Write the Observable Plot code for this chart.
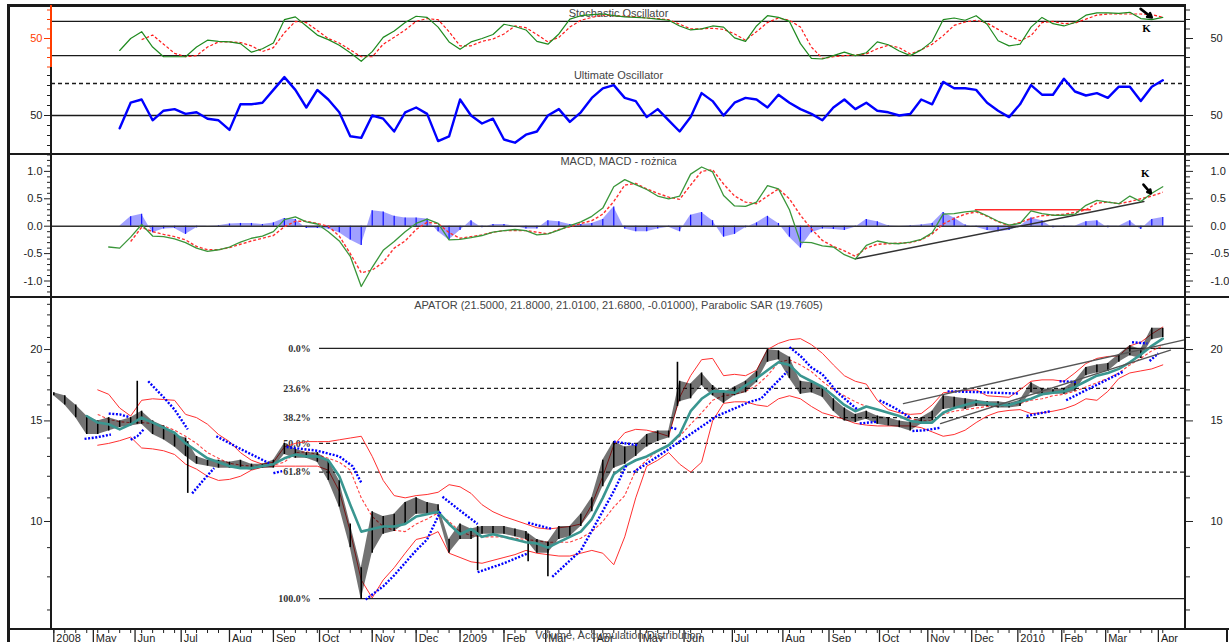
<!DOCTYPE html>
<html><head><meta charset="utf-8">
<script src="https://cdn.jsdelivr.net/npm/d3@7"></script>
<script src="https://cdn.jsdelivr.net/npm/@observablehq/plot@0.6"></script>
<style>
html,body{margin:0;padding:0;background:#fff;overflow:hidden;}
#chart{position:relative;width:1229px;height:642px;overflow:hidden;background:#fff;font-family:"Liberation Sans",Arial,sans-serif;}
.panel{position:absolute;left:0;}
.ln{position:absolute;background:#1a1a1a;}
</style></head><body><div id="chart"></div>
<script>
// ---------- x categories: trading-session index (sampled every 5 sessions) ----------
const sessions = d3.range(0, 506, 5); // 102 samples
const monthTicks  = [0, 18, 37, 58, 80, 100, 121, 145, 165, 185, 205, 224, 246, 267, 287, 309, 332, 353, 376, 398, 418, 439, 459, 479, 503];
const monthLabels = ["2008","May","Jun","Jul","Aug","Sep","Oct","Nov","Dec","2009","Feb","Mar","Apr","May","Jun","Jul","Aug","Sep","Oct","Nov","Dec","2010","Feb","Mar","Apr"];

// ---------- Stochastic oscillator ----------
const stochK = [null,null,null,null,null,null,29,50,62,35,
  18,18,18,35,47,45,44,41,26,32,
  42,83,88,72,56,48,38,25,10,27,
  52,63,78,89,87,70,44,31,44,50,
  57,75,71,65,45,40,58,84,90,92,
  93,90,88,87,86,84,82,72,65,67,
  72,70,51,45,72,90,87,80,41,15,
  14,20,26,20,25,44,39,28,20,30,
  45,83,86,82,90,75,46,37,40,70,
  87,76,72,78,91,95,95,94,96,85,
  83,87];
const stochD = [null,null,null,null,null,null,null,null,48,56,
  40,24,18,20,35,44,44,43,37,27,
  34,60,80,78,64,50,42,30,18,18,
  40,52,65,80,85,83,62,37,37,45,
  49,58,72,69,57,44,52,70,82,87,
  91,90,89,88,86,85,83,75,67,67,
  68,66,58,47,62,78,86,82,70,35,
  15,18,20,21,23,32,38,34,23,30,
  40,55,73,79,82,77,66,55,46,55,
  78,80,76,77,84,91,93,93,93,93,
  92,87];
const stochLevels = [20, 80];
const stochMajor = [50];
const stochMinor = [0, 16.67, 33.33, 66.67, 83.33, 100];

// ---------- Ultimate oscillator ----------
const ultimate = [null,null,null,null,null,null,42,58,60,47,
  53,54,51,52,48,47,41,57,57,58,
  66,74,66,55,66,60,52,37,36,50,
  48,40,52,55,51,34,37,60,50,45,
  48,35,33,38,40,50,54,46,52,61,
  67,69,61,59,49,54,47,40,49,64,
  59,50,58,61,60,55,63,58,54,51,
  47,55,60,54,58,53,52,50,51,60,
  57,71,67,67,66,58,53,49,57,69,
  63,63,73,65,62.5,64,61,68,68,59,
  68,72];
const uoSolid = [50], uoDashed = [70];
const uoMajor = [50];
const uoMinor = [31.25, 37.5, 43.75, 56.25, 62.5, 68.75, 75];

// ---------- MACD ----------
const macd = [null,null,null,null,null,-0.38,-0.40,-0.2,0.03,-0.18,
  -0.19,-0.23,-0.3,-0.4,-0.46,-0.43,-0.38,-0.29,-0.22,-0.18,
  -0.1,0.12,0.17,0.08,0.04,-0.1,-0.27,-0.55,-1.1,-0.75,
  -0.44,-0.28,-0.1,0.05,0.13,0.05,-0.25,-0.24,-0.21,-0.17,
  -0.11,-0.08,-0.06,-0.08,-0.16,-0.14,-0.07,0.01,0.08,0.18,
  0.33,0.72,0.85,0.76,0.67,0.55,0.5,0.55,0.95,1.08,
  0.99,0.56,0.37,0.36,0.44,0.74,0.68,0.3,-0.29,-0.3,
  -0.36,-0.38,-0.52,-0.6,-0.35,-0.27,-0.31,-0.32,-0.29,-0.24,
  -0.12,0.22,0.23,0.26,0.28,0.19,0.09,0.02,0.05,0.28,
  0.23,0.2,0.2,0.22,0.38,0.47,0.44,0.41,0.55,0.45,
  0.6,0.72];
const signal = [null,null,null,null,null,null,null,-0.28,-0.02,-0.1,
  -0.15,-0.19,-0.25,-0.37,-0.43,-0.43,-0.39,-0.33,-0.27,-0.22,
  -0.17,-0.01,0.09,0.09,0.05,0.0,-0.18,-0.5,-0.85,-0.8,
  -0.66,-0.4,-0.27,-0.06,0.07,0.05,-0.12,-0.22,-0.19,-0.16,
  -0.11,-0.08,-0.08,-0.08,-0.11,-0.14,-0.06,-0.01,0.05,0.1,
  0.22,0.45,0.75,0.78,0.68,0.6,0.53,0.49,0.75,1.0,
  1.03,0.77,0.55,0.44,0.41,0.55,0.68,0.5,0.2,-0.05,
  -0.26,-0.37,-0.45,-0.55,-0.4,-0.33,-0.32,-0.31,-0.3,-0.25,
  -0.14,0.04,0.14,0.22,0.26,0.18,0.08,0.01,0.07,0.14,
  0.19,0.2,0.22,0.25,0.3,0.42,0.44,0.41,0.45,0.5,
  0.55,0.62];
const histogram = [null,null,null,null,null,null,0.0,0.17,0.22,-0.12,
  -0.05,-0.04,-0.15,-0.03,0.0,0.01,0.04,0.05,0.05,0.03,
  0.06,0.14,0.12,-0.04,-0.04,-0.05,-0.12,-0.25,-0.35,0.28,
  0.26,0.18,0.15,0.15,0.13,-0.1,-0.25,-0.08,0.1,-0.03,
  0.03,0.03,0.0,-0.05,-0.05,0.1,0.08,0.03,0.03,0.05,
  0.12,0.35,-0.05,-0.1,-0.1,-0.05,-0.02,-0.1,0.2,0.25,
  0.1,-0.2,-0.15,-0.03,0.06,0.18,0.05,-0.2,-0.4,-0.12,
  -0.05,-0.06,-0.08,-0.02,0.12,0.08,0.01,0.0,0.01,0.02,
  0.05,0.25,0.15,0.02,-0.02,-0.08,-0.1,-0.08,0.0,0.15,
  0.1,-0.03,-0.02,0.0,0.08,0.1,-0.03,0.0,0.1,-0.06,
  0.12,0.16];
const macdMajor = [-1, -0.5, 0, 0.5, 1];
const macdMinor = [-1.3,-1.2,-1.1,-0.9,-0.8,-0.7,-0.6,-0.4,-0.3,-0.2,-0.1,0.1,0.2,0.3,0.4,0.6,0.7,0.8,0.9,1.1,1.2,1.3];
const macdTrendBlack = [[365.1, -0.595], [496.4, 0.45]];
const macdTrendRed = [[419.7, 0.30], [472, 0.30]];

// ---------- Price (APATOR) ----------
const priceHigh = [16.8,16.6,16.0,15.3,15.0,15.2,15.0,15.2,15.6,15.0,
  14.7,14.2,14.0,13.0,12.8,12.8,12.7,12.8,12.6,12.6,
  12.8,13.7,13.4,13.2,13.2,12.8,11.8,9.9,8.3,10.4,
  10.2,10.3,10.8,11.0,10.8,10.7,9.3,9.9,9.7,9.8,
  9.8,9.8,9.7,9.6,9.3,9.2,9.8,9.8,10.3,11.0,
  12.8,13.8,13.5,13.6,14.2,14.4,14.4,17.6,17.4,18.2,
  17.3,16.8,17.2,17.6,18.3,20.0,19.9,19.4,17.6,17.5,
  17.2,16.4,15.8,15.4,15.6,15.3,15.2,15.0,14.9,15.2,
  15.6,16.6,16.5,16.4,16.3,16.2,16.2,16.1,16.3,17.5,
  17.1,17.0,17.1,17.6,18.6,18.8,18.9,19.6,20.3,20.0,
  21.8,21.8];
const priceLow = [16.6,16.0,15.2,14.2,14.2,14.4,14.6,14.7,14.8,14.2,
  13.9,13.5,13.0,12.6,12.5,12.4,12.4,12.4,12.3,12.4,
  12.4,13.1,12.9,12.9,12.7,11.8,10.6,9.0,7.3,8.8,
  9.5,9.6,9.9,10.3,10.3,10.3,8.8,9.3,9.3,9.5,
  9.5,9.5,9.4,9.3,8.8,8.8,9.3,9.4,9.8,10.4,
  11.5,12.4,12.6,13.0,13.5,13.8,14.0,16.2,16.4,17.3,
  16.6,16.1,16.6,16.8,17.5,19.0,19.2,17.8,16.7,16.8,
  16.5,15.6,15.0,14.9,15.1,14.8,14.7,14.6,14.4,14.8,
  15.0,15.7,15.8,15.7,15.9,15.9,15.8,15.8,15.9,16.8,
  16.6,16.7,16.7,16.9,18.0,18.2,18.3,19.0,19.5,19.3,
  20.8,21.0];
const priceSpikes = [[38,14.8,17.6],[61,11.2,13.8],[193,8.2,9.8],[216,8.5,9.5],[225,8.0,9.2],[284,15.9,19.0]];
const maTeal = [null,null,null,15.3,14.9,14.8,14.5,14.8,15.2,14.9,
  14.6,14.3,13.7,13.3,12.9,12.7,12.5,12.4,12.4,12.5,
  12.6,12.9,13.1,13.0,13.0,12.8,12.0,10.7,9.6,9.7,
  9.8,9.8,9.9,10.2,10.3,10.4,9.9,9.5,9.7,9.4,
  9.5,9.4,9.3,9.2,9.15,9.0,9.2,9.4,9.6,10.1,
  11.0,12.1,12.5,12.8,13.0,13.3,13.6,14.2,15.6,16.4,
  16.9,16.9,16.8,17.3,17.8,18.4,19.0,18.8,18.0,17.6,
  17.2,16.6,16.0,15.6,15.9,15.7,15.5,15.3,15.0,14.9,
  14.9,15.5,15.8,16.0,16.2,16.1,16.0,16.0,16.2,16.4,
  16.7,16.8,16.9,17.2,17.6,18.0,18.2,18.5,19.0,19.6,
  20.3,20.9];
const maRed = [null,null,null,null,15.4,15.1,14.95,14.9,14.9,14.85,
  14.7,14.45,14.1,13.7,13.2,12.9,12.65,12.55,12.5,12.5,
  12.55,12.7,13.2,13.25,13.1,12.9,12.7,12.3,11.0,10.2,
  9.8,9.65,9.6,9.9,10.1,10.35,10.0,9.6,9.45,9.4,
  9.4,9.4,9.35,9.3,9.25,9.2,9.2,9.2,9.35,9.6,
  10.0,10.6,11.1,12.3,12.8,13.3,13.6,14.1,14.8,15.5,
  16.3,16.6,16.7,16.9,17.3,18.0,19.0,19.2,18.8,18.3,
  17.6,17.0,16.6,16.2,15.9,15.7,15.5,15.3,15.15,15.0,
  15.0,15.4,15.6,15.7,15.8,15.9,15.9,16.0,16.1,16.3,
  16.4,16.6,16.7,16.9,17.2,17.5,17.8,18.2,18.8,19.3,
  19.9,20.3];
const bandUpper = [null,null,null,null,17.0,16.7,15.8,15.3,16.3,16.4,
  16.35,16.3,15.4,15.2,14.8,14.2,13.8,13.2,12.8,12.6,
  12.7,13.5,13.7,13.8,13.8,13.8,13.9,14.0,14.1,13.0,
  11.8,11.1,11.0,11.1,11.15,11.25,11.6,11.5,11.2,10.7,
  10.4,10.2,10.05,9.9,9.75,9.7,9.75,9.8,9.9,10.7,
  12.0,13.6,14.3,14.5,14.45,14.3,14.1,16.5,18.0,19.2,
  19.3,18.0,18.1,18.0,18.4,20.0,20.5,20.8,20.9,20.4,
  19.7,18.8,18.0,17.6,17.4,16.3,15.7,15.5,15.4,15.45,
  16.0,16.8,16.9,16.95,17.0,16.6,16.55,16.5,17.0,17.6,
  17.7,17.7,17.6,18.2,18.9,19.3,19.45,19.5,20.3,20.6,
  21.3,21.9];
const bandLower = [null,null,null,null,13.6,13.7,13.85,14.05,13.45,13.4,
  13.3,13.1,12.6,12.35,12.0,11.8,11.85,12.0,12.3,12.45,
  12.5,12.5,12.5,12.5,12.5,12.3,11.3,9.6,7.9,7.35,
  7.9,8.3,8.8,9.3,9.4,9.6,8.8,8.65,8.5,8.45,
  8.55,8.65,8.75,8.9,8.8,8.75,8.7,8.7,8.8,8.9,
  8.8,8.4,9.4,11.0,12.5,12.8,13.2,12.6,12.2,12.7,
  15.0,16.1,16.2,16.2,16.0,15.9,16.4,16.6,16.4,15.9,
  15.5,15.3,15.1,14.85,14.75,14.7,14.7,14.7,14.7,14.6,
  14.35,14.1,14.2,14.45,14.9,15.3,15.55,15.65,15.7,15.45,
  15.5,15.6,15.75,16.0,16.4,16.3,16.9,17.8,18.2,18.35,
  18.5,18.8];
// Parabolic SAR runs: [session, value]
const sarSegments = [
  [[14,13.95],[20,14.05],[26,14.2]],
  [[25,15.45],[30,15.4],[34,15.25]],
  [[35,13.9],[38,14.1],[41,14.5]],
  [[43,17.6],[50,16.5],[55,15.7],[61,14.5]],
  [[63,11.2],[68,11.8],[73,12.4]],
  [[74,14.1],[85,13.4],[98,12.65]],
  [[100,12.15],[104,12.25]],
  [[106,13.5],[120,13.3],[130,13.0],[136,12.5],[140,11.7]],
  [[142,7.3],[150,7.7],[155,8.05],[165,8.9],[170,9.3],[176,10.4]],
  [[177,11.05],[185,10.45],[193,9.9]],
  [[193,8.15],[205,8.45],[216,8.8]],
  [[216,9.95],[227,9.7]],
  [[227,8.0],[240,8.9],[248,10.1],[255,11.3],[261,12.6]],
  [[255,13.8],[266,13.6]],
  [[264,12.2],[275,13.0],[285,13.8]],
  [[281,14.6],[284,14.5]],
  [[285,13.8],[302,15.3],[317,16.2],[322,16.4],[329,17.5],[334,18.3]],
  [[335,20.2],[340,19.5],[345,18.6],[350,18.1],[357,16.8],[366,15.7]],
  [[367,14.85],[375,14.95]],
  [[376,16.3],[383,15.8],[390,15.2]],
  [[391,14.4],[397,14.45],[404,14.6]],
  [[407,16.9],[420,16.85],[439,16.75]],
  [[443,15.3],[454,15.6]],
  [[458,17.6],[466,17.55]],
  [[461,16.3],[469,16.9],[477,17.5],[487,18.3]],
  [[491,20.6],[498,20.5]],
  [[499,19.1],[503,19.7]]
];
const priceTrendlines = [
  [[386.9,16.09],[515.3,20.82]],
  [[403.8,14.84],[508.5,19.96]]
];
const fibLabels = ["0.0%","23.6%","38.2%","50.0%","61.8%","100.0%"];
const fibValues = [20.1, 17.1, 15.2, 13.7, 12.2, 7.33];
const fibStart = 121, fibLabelAt = 117;
const priceMajor = [10, 15, 20];
const priceMinor = [7,8,9,11,12,13,14,16,17,18,19,21,22,23,24];

// annotations
const stochArrow = [{x1:494.9, y1:102, x2:500, y2:87}];
const stochK_label = [{s:497.6, v:68, t:"K"}];
const macdArrow = [{x1:496.2, y1:0.76, x2:499.6, y2:0.6}];
const macdK_label = [{s:497, v:0.96, t:"K"}];

// ---------- build ----------
const rows = sessions.map((s, i) => ({s, k: stochK[i], d: stochD[i], u: ultimate[i], m: macd[i], sg: signal[i], h: histogram[i],
  hi: priceHigh[i], lo: priceLow[i], ma: maTeal[i], ma2: maRed[i], bu: bandUpper[i], bl: bandLower[i]}));
const sarRows = sarSegments.flatMap((seg, j) => seg.map(([s, v]) => ({s, v, seg: j})));
const trendRows = priceTrendlines.flatMap((seg, j) => seg.map(([s, v]) => ({s, v, seg: j})));
const fibRows = fibLabels.map((label, i) => ({label, v: fibValues[i], solid: i === 0 || i === fibLabels.length - 1}));

const chart = document.getElementById("chart");
const XD = [-1.05, 515.35];
const FONT = "'Liberation Sans', Arial, sans-serif";
const SERIF = "'Liberation Serif', 'Times New Roman', serif";
function addPanel(top, opts) {
  const svg = Plot.plot({width: 1229, marginLeft: 51, marginRight: 44, x: {domain: XD, axis: null},
    style: {fontFamily: FONT, fontSize: "11px", background: "transparent", color: "#222", overflow: "visible"}, ...opts});
  const div = document.createElement("div");
  div.className = "panel"; div.style.top = top + "px";
  div.appendChild(svg); chart.appendChild(div);
}
function yAxes(major, minor, fmt, leftColor = "#222") {
  return [
    Plot.axisY({anchor: "left", ticks: minor, tickSize: 4, fill: "none", stroke: leftColor, label: null}),
    Plot.axisY({anchor: "left", ticks: major, tickSize: 7, tickPadding: 2, tickFormat: fmt, color: leftColor, label: null, fontSize: 11}),
    Plot.axisY({anchor: "right", ticks: minor, tickSize: 4, fill: "none", stroke: "#222", label: null}),
    Plot.axisY({anchor: "right", ticks: major, tickSize: 7, tickPadding: 18, tickFormat: fmt, color: "#222", label: null, fontSize: 11})
  ];
}
const titleOpts = (dy) => ({text: d => d, frameAnchor: "top", lineAnchor: "top", dy, fill: "#444", fontSize: 11});
const dashed = {strokeLinecap: "butt", strokeLinejoin: "miter"};

// Stochastic
addPanel(5, {
  height: 62, marginTop: 4.5, marginBottom: 0.5,
  y: {domain: [0, 100], axis: null},
  marks: [
    ...yAxes(stochMajor, stochMinor, d => d, "#ff3c00"),
    Plot.ruleY(stochLevels, {stroke: "#1a1a1a", strokeWidth: 1.3}),
    Plot.text(["Stochastic Oscillator"], titleOpts(-0.5)),
    Plot.lineY(rows, {x: "s", y: "d", stroke: "#ff1a1a", strokeWidth: 1.2, strokeDasharray: "3,2", ...dashed}),
    Plot.lineY(rows, {x: "s", y: "k", stroke: "#1f8a1f", strokeWidth: 1.2}),
    Plot.arrow(stochArrow, {x1: "x1", y1: "y1", x2: "x2", y2: "y2", stroke: "#000", strokeWidth: 2.6, headLength: 5}),
    Plot.text(stochK_label, {x: "s", y: "v", text: "t", fontFamily: SERIF, fontWeight: "bold", fontSize: 11, fill: "#000"})
  ]
});

// Ultimate
addPanel(67, {
  height: 87, marginTop: 0, marginBottom: 0,
  y: {domain: [25.625, 80], axis: null},
  marks: [
    ...yAxes(uoMajor, uoMinor, d => d),
    Plot.ruleY(uoSolid, {stroke: "#1a1a1a", strokeWidth: 1.3}),
    Plot.ruleY(uoDashed, {stroke: "#1a1a1a", strokeWidth: 1.3, strokeDasharray: "4,3"}),
    Plot.text(["Ultimate Oscillator"], titleOpts(3.5)),
    Plot.lineY(rows, {x: "s", y: "u", stroke: "#0000ff", strokeWidth: 2.4})
  ]
});

// MACD
addPanel(154, {
  height: 143, marginTop: 0, marginBottom: 0,
  y: {domain: [-1.301, 1.308], axis: null},
  marks: [
    ...yAxes(macdMajor, macdMinor, d => d.toFixed(1)),
    Plot.areaY(rows, {x: "s", y: "h", fill: "#8888ff", fillOpacity: 0.8}),
    Plot.ruleX(rows.filter(r => r.h != null), {x: "s", y1: () => 0, y2: "h", stroke: "#1010ff", strokeWidth: 1.2}),
    Plot.ruleY([0], {stroke: "#333", strokeWidth: 1.5}),
    Plot.text(["MACD, MACD - rożnica"], titleOpts(3)),
    Plot.line(macdTrendBlack, {x: d => d[0], y: d => d[1], stroke: "#333", strokeWidth: 1.5}),
    Plot.line(macdTrendRed, {x: d => d[0], y: d => d[1], stroke: "#ff2a2a", strokeWidth: 1.5}),
    Plot.lineY(rows, {x: "s", y: "sg", stroke: "#ff3030", strokeWidth: 1.4, strokeDasharray: "3,2", ...dashed}),
    Plot.lineY(rows, {x: "s", y: "m", stroke: "#3a963a", strokeWidth: 1.3}),
    Plot.arrow(macdArrow, {x1: "x1", y1: "y1", x2: "x2", y2: "y2", stroke: "#000", strokeWidth: 2.6, headLength: 5}),
    Plot.text(macdK_label, {x: "s", y: "v", text: "t", fontFamily: SERIF, fontWeight: "bold", fontSize: 11, fill: "#000"})
  ]
});

// Price
addPanel(297, {
  height: 362, marginTop: 0, marginBottom: 30,
  y: {type: "log", domain: [6.47, 24.67], axis: null},
  marks: [
    ...yAxes(priceMajor, priceMinor, d => d),
    Plot.ruleY(fibRows.filter(d => d.solid), {y: "v", x1: () => fibStart, x2: () => XD[1], stroke: "#222", strokeWidth: 1.3}),
    Plot.ruleY(fibRows.filter(d => !d.solid), {y: "v", x1: () => fibStart, x2: () => XD[1], stroke: "#222", strokeWidth: 1.2, strokeDasharray: "4,3"}),
    Plot.text(fibRows, {x: () => fibLabelAt, y: "v", text: "label", textAnchor: "end", fontFamily: SERIF, fontWeight: "bold", fontSize: 10, fill: "#333"}),
    Plot.lineY(rows, {x: "s", y: "bu", stroke: "#ff3030", strokeWidth: 1}),
    Plot.lineY(rows, {x: "s", y: "bl", stroke: "#ff3030", strokeWidth: 1}),
    Plot.lineY(rows, {x: "s", y: "ma2", stroke: "#ff4040", strokeWidth: 1.1, strokeDasharray: "3,2", ...dashed}),
    Plot.areaY(rows, {x: "s", y1: "lo", y2: "hi", fill: "#000", fillOpacity: 0.55}),
    Plot.ruleX(rows, {x: "s", y1: "lo", y2: "hi", stroke: "#000", strokeWidth: 1.5}),
    Plot.ruleX(priceSpikes, {x: d => d[0], y1: d => d[1], y2: d => d[2], stroke: "#000", strokeWidth: 1.6}),
    Plot.lineY(rows, {x: "s", y: "ma", stroke: "#3a9690", strokeWidth: 2.6}),
    Plot.line(sarRows, {x: "s", y: "v", z: "seg", stroke: "#0000ff", strokeWidth: 2.4, strokeDasharray: "2,1.6", ...dashed}),
    Plot.line(trendRows, {x: "s", y: "v", z: "seg", stroke: "#555", strokeWidth: 1.3}),
    Plot.text(["APATOR (21.5000, 21.8000, 21.0100, 21.6800, -0.01000), Parabolic SAR (19.7605)"], titleOpts(4)),
    Plot.axisX({anchor: "bottom", ticks: sessions, tickSize: 4, fill: "none", stroke: "#222", label: null}),
    Plot.axisX({anchor: "bottom", ticks: monthTicks, tickSize: 13, fill: "none", stroke: "#222", strokeWidth: 1.3, label: null}),
    Plot.text(monthTicks, {x: d => d, text: (d, i) => monthLabels[i], frameAnchor: "bottom", lineAnchor: "top", textAnchor: "start", dx: 2.5, dy: 4.5, fill: "#222", fontSize: 11}),
    Plot.text(["Volume, Accumulation/Distribution"], {text: d => d, frameAnchor: "bottom", lineAnchor: "top", dy: 2, fill: "#444", fontSize: 11})
  ]
});

// frame lines
function ln(l, t, w, h, c) { const e = document.createElement("div"); e.className = "ln"; Object.assign(e.style, {left: l + "px", top: t + "px", width: w + "px", height: h + "px"}); if (c) e.style.background = c; chart.appendChild(e); }
ln(7, 4, 2.5, 638);
ln(7, 4, 1179, 2.5);
ln(7, 153, 1222, 2);
ln(7, 296, 1222, 2);
ln(7, 628, 1222, 2);
ln(50.3, 5, 1.5, 62, "#ff3c00");
ln(50.3, 67, 1.5, 562);
ln(1184.3, 5, 1.5, 624);
ln(1226, 629, 2, 13);
</script></body></html>
